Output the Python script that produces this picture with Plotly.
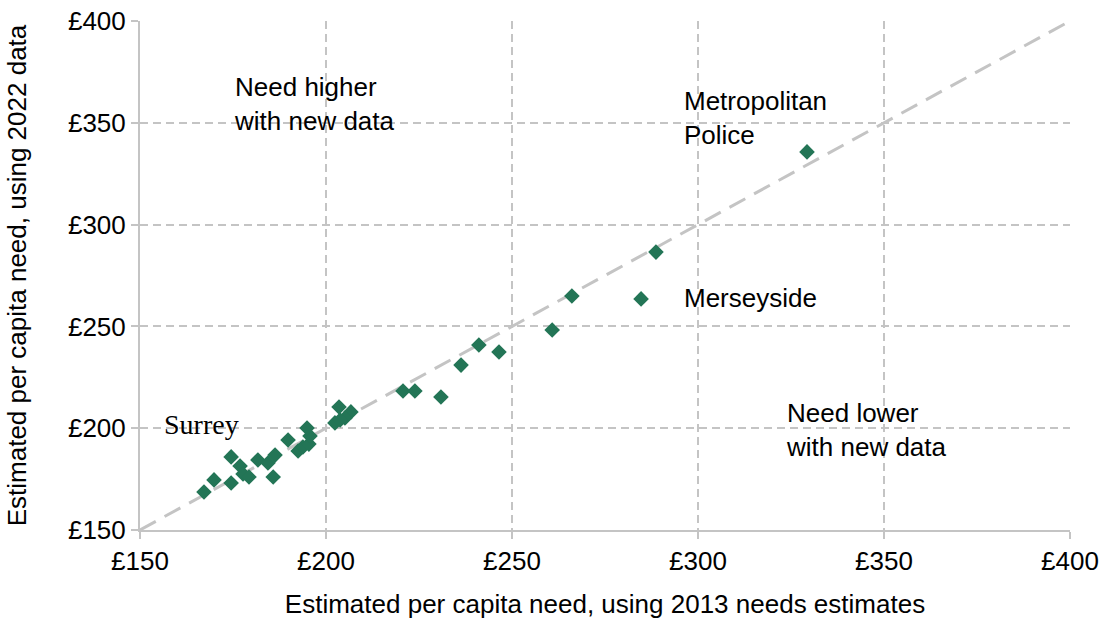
import plotly.graph_objects as go

# Estimated per capita need (£): 2013 needs estimates vs 2022 data
need_2013 = [167.2, 169.9, 174.5, 174.5, 176.9, 177.7, 179.3,
             181.7, 184.4, 186.3, 185.8, 189.8, 192.5, 193.8, 195.4, 195.7, 194.9,
             203.5, 206.7, 202.4, 205.1, 203.8,
             220.7, 223.9, 230.9, 236.3, 241.1, 246.5, 260.8, 266.1, 284.7, 288.7, 329.3]
need_2022 = [168.7, 174.6, 173.1, 185.9, 181.4, 177.5, 176.0,
             184.4, 182.9, 186.8, 176.0, 194.2, 188.8, 190.8, 192.2, 196.2, 200.1,
             210.4, 208.0, 202.6, 205.0, 204.0,
             218.3, 218.3, 215.3, 231.0, 240.9, 237.4, 248.2, 264.9, 263.5, 286.5, 335.7]

diag_x = [150, 400]
diag_y = [150, 400]
tick_vals = [150, 200, 250, 300, 350, 400]
tick_text = ["£150", "£200", "£250", "£300", "£350", "£400"]

grid_col = "#c4c4c4"
green = "#237556"
font_main = "Liberation Sans, Arial, sans-serif"
fs = 26

fig = go.Figure()
fig.add_trace(go.Scatter(x=diag_x, y=diag_y, mode="lines",
                         line=dict(color="#c4c4c4", width=3, dash="18px,10px"),
                         hoverinfo="skip", showlegend=False))
fig.add_trace(go.Scatter(x=need_2013, y=need_2022, mode="markers",
                         marker=dict(symbol="diamond", size=12, color=green),
                         showlegend=False))

annots = [
    dict(x=174.7, y=359.2, text="Need higher<br>with new data", font=dict(family=font_main, size=fs, color="black")),
    dict(x=295.7, y=352.4, text="Metropolitan<br>Police", font=dict(family=font_main, size=fs, color="black")),
    dict(x=295.7, y=263.9, text="Merseyside", font=dict(family=font_main, size=fs, color="black")),
    dict(x=323.1, y=199.1, text="Need lower<br>with new data", font=dict(family=font_main, size=fs, color="black")),
    dict(x=156.0, y=201.6, text="Surrey", font=dict(family="Liberation Serif, Times New Roman, serif", size=28, color="black")),
]
for a in annots:
    fig.add_annotation(xref="x", yref="y", xanchor="left", yanchor="middle",
                       showarrow=False, align="left", **a)

axis_common = dict(
    range=[150, 400], tickmode="array", tickvals=tick_vals, ticktext=tick_text,
    showgrid=True, gridcolor=grid_col, griddash="8px,5px", gridwidth=1.5,
    showline=True, linecolor=grid_col, linewidth=2,
    ticks="outside", tickcolor=grid_col, ticklen=7, tickwidth=1.5,
    zeroline=False, automargin=False, ticklabeloverflow="allow",
    tickfont=dict(family=font_main, size=fs, color="black"),
)

fig.update_xaxes(**axis_common,
                 title=dict(text="Estimated per capita need, using 2013 needs estimates",
                            font=dict(family=font_main, size=fs, color="black"), standoff=20))
fig.update_yaxes(**axis_common,
                 title=dict(text="Estimated per capita need, using 2022 data",
                            font=dict(family=font_main, size=fs, color="black"), standoff=34))

fig.update_layout(
    width=1102, height=627,
    margin=dict(l=140, r=32, t=21, b=97),
    plot_bgcolor="white", paper_bgcolor="white",
)

fig.write_html("out.html", config={"displayModeBar": False},
               post_script="document.body.style.margin='0';")
